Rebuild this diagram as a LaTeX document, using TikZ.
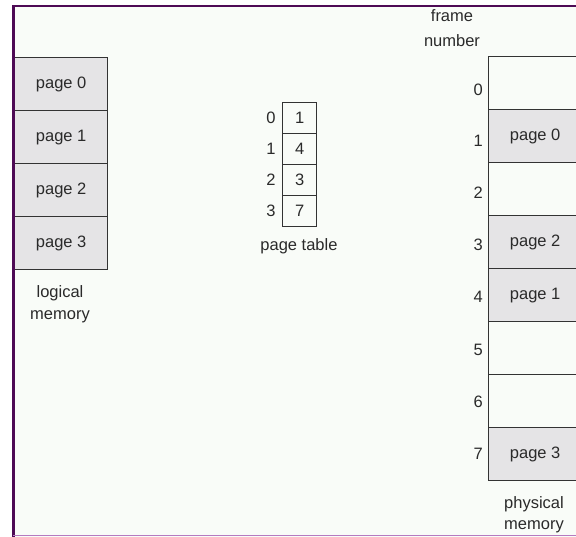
\documentclass[tikz,border=0pt]{standalone}
\usepackage{fontspec}
\setmainfont{Liberation Sans}
\definecolor{bgc}{HTML}{F9FCF8}
\definecolor{pagegray}{HTML}{E5E4E6}
\definecolor{edgec}{HTML}{333333}
\definecolor{framec}{HTML}{4E0A55}
\definecolor{framelow}{HTML}{B57AC0}
\definecolor{txt}{HTML}{2A2A2A}
\tikzset{
  lbl/.style={font=\fontsize{16.5}{22}\selectfont, text=txt, inner sep=0pt, align=center},
  pagecell/.style={draw=edgec, line width=1.4pt, fill=pagegray, minimum width=93pt, minimum height=53pt, inner sep=0pt, anchor=north west, lbl},
  freecell/.style={pagecell, fill=bgc},
  ptcell/.style={draw=edgec, line width=1.2pt, fill=bgc, minimum width=34pt, minimum height=31pt, inner sep=0pt, anchor=north west, lbl},
}
\begin{document}
\begin{tikzpicture}[x=1pt,y=-1pt]
\useasboundingbox (0,0) rectangle (576,537);
\fill[white] (0,0) rectangle (576,537);
\fill[bgc] (13,6) rectangle (576,537);
% logical memory
\node[pagecell] (l0) at (14,57) {page 0};
\node[pagecell] (l1) at (14,110) {page 1};
\node[pagecell] (l2) at (14,163) {page 2};
\node[pagecell] (l3) at (14,216) {page 3};
\node[lbl] (lmem) at (60,304) {logical\\[0pt]memory};
% page table
\node[ptcell] (t0) at (282,102) {1};
\node[ptcell] (t1) at (282,133) {4};
\node[ptcell] (t2) at (282,164) {3};
\node[ptcell] (t3) at (282,195) {7};
\node[lbl] (i0) at (271,118) {0};
\node[lbl] (i1) at (271,149) {1};
\node[lbl] (i2) at (271,180) {2};
\node[lbl] (i3) at (271,211) {3};
\node[lbl] (ptl) at (299,246) {page table};
% physical memory
\node[freecell] (f0) at (488,56) {};
\node[pagecell] (f1) at (488,109) {page 0};
\node[freecell] (f2) at (488,162) {};
\node[pagecell] (f3) at (488,215) {page 2};
\node[pagecell] (f4) at (488,268) {page 1};
\node[freecell] (f5) at (488,321) {};
\node[freecell] (f6) at (488,374) {};
\node[pagecell] (f7) at (488,427) {page 3};
\node[lbl, anchor=east] (n0) at (483,90) {0};
\node[lbl, anchor=east] (n1) at (483,141) {1};
\node[lbl, anchor=east] (n2) at (483,193) {2};
\node[lbl, anchor=east] (n3) at (483,245) {3};
\node[lbl, anchor=east] (n4) at (483,297) {4};
\node[lbl, anchor=east] (n5) at (483,350) {5};
\node[lbl, anchor=east] (n6) at (483,402) {6};
\node[lbl, anchor=east] (n7) at (483,454) {7};
\node[lbl] (fn) at (452,28) {frame\\[3pt]number};
\node[lbl] (pm) at (534,515) {physical\\[-1pt]memory};
% frame
\draw[framec, line width=2.6pt] (13.3,537) -- (13.3,6) -- (576,6);
\draw[framelow, line width=1.4pt] (13,535.5) -- (576,535.5);
\end{tikzpicture}
\end{document}
